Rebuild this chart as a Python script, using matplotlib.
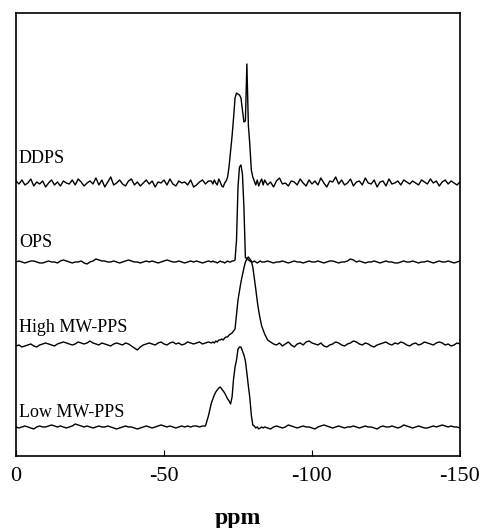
import numpy as np
import matplotlib.pyplot as plt

plt.rcParams['font.family'] = ['Liberation Serif', 'DejaVu Serif']

# chemical shift grid (ppm): coarse on the baseline, finer around the peaks
ppm_left = np.arange(0, -66, -1.0)
ppm_mid = np.arange(-66, -84, -0.5)
ppm_right = np.arange(-84, -151, -1.0)
ppm = np.concatenate([ppm_left, ppm_mid, ppm_right])

labels = ["DDPS", "OPS", "High MW-PPS", "Low MW-PPS"]
offsets = [273, 194, 111, 29]          # stacking offset of each trace
label_y = [293, 209, 124, 39]

# intensities (arbitrary units)
ddps_left = [2, -1, 3, -2, 0, 4, -3, 1, -1, 2,
             -4, 0, 3, -2, 1, -3, 2, 0, -1, 3,
             -2, 4, 1, -3, 0, 2, -1, 5, -2, 3,
             -4, 1, 6, -2, 0, 3, -1, -3, 2, 4,
             -2, 1, -3, 0, 3, -1, 2, -4, 1, 0,
             3, -2, 4, -1, -3, 2, 0, 1, -2, 3,
             -4, -2, 1, 3, -1, 2]
ddps_mid = [2, -1, 3, 0, -2, 4, 1, -3, -4, 0, 2, 6,
            17, 32, 47, 65, 85, 90, 89, 88, 85, 73, 61, 62,
            119, 58, 38, 13, 6, 2, -2, 3, -3, 1, 4, -2]
ddps_right = [3, -2, 1, -4, 2, 5, -1, 0, -3, 2,
              1, -2, 4, 0, -3, 3, -1, 2, -2, 5,
              0, -4, 2, 1, 6, -1, 3, -2, 0, 4,
              -3, 1, 2, -2, 5, 0, -1, 3, -4, 1,
              2, -3, 4, -1, 0, 2, -2, 3, 1, -1,
              2, 0, -2, 3, 1, -1, 4, 0, 2, -3,
              1, 3, -1, 2, 0, -2, 1]

ops_left = [0, 1, 0, -1, 0, 1, 1, 0, -1, -1,
            0, 1, 0, 0, -1, 1, 2, 1, 0, -1,
            0, 0, 1, -1, -2, 0, 1, 3, 2, 1,
            1, 0, 0, 1, 0, -1, 0, 1, 2, 1,
            0, 0, -1, 0, 1, 0, 1, 0, -1, 0,
            1, 2, 1, 0, 0, 1, 0, -1, 0, 1,
            0, 1, 0, -1, 0, 1]
ops_mid = [0, 1, 0, 0, -1, 0, 1, 0, 0, -1, 0, 1,
           0, 0, 1, 1, 2, 22, 75, 95, 97, 88, 55, 4,
           4, 2, 1, 0, 0, 1, 0, -1, 0, 1, 0, 0]
ops_right = [0, 1, 0, -1, 0, 0, 1, 0, -1, 0,
             1, 0, 0, -1, 0, 1, 0, 0, 1, 0,
             -1, 0, 1, 1, 0, -1, 0, 0, 1, 3,
             2, 0, 1, 0, -1, 0, 0, 1, 0, -1,
             0, 1, 0, 0, -1, -1, 0, 1, 0, 0,
             1, 0, -1, 0, 0, 1, 0, -1, 0, 1,
             0, 0, 1, 0, -1, 0, 1]

high_left = [-1, 0, -2, -1, 0, 1, -1, -2, 0, 1,
             2, 1, 0, -1, 1, 2, 3, 2, 1, 0,
             1, 3, 2, 1, 2, 4, 2, 1, 0, 2,
             1, 0, -1, 1, 2, 1, 0, 2, 1, -1,
             -3, -5, -2, 0, 1, 2, 1, 0, 2, 3,
             1, 0, 2, 3, 1, 2, 0, 1, 3, 2,
             1, 2, 3, 1, 2, 3]
high_mid = [2, 3, 2, 4, 3, 5, 5, 6, 5, 7, 8, 8,
            10, 11, 12, 14, 16, 30, 45, 54, 63, 70, 77, 83,
            86, 88, 86, 84, 78, 67, 56, 44, 34, 26, 19, 15]
high_right = [11, 5, 3, 1, 0, 2, -1, 1, 3, 0,
              -2, 1, 2, 0, 3, 4, 2, 1, 0, 2,
              -1, -2, 0, 1, 3, 2, 0, -1, 1, 2,
              4, 3, 1, 0, 2, 1, -1, -2, 0, 1,
              2, 3, 1, 0, 2, 1, 3, 2, 0, -1,
              1, 2, 0, 1, 3, 2, 1, 0, 2, 3,
              2, 0, 1, -1, 0, 2, 1]

low_left = [0, -1, 0, 1, 0, -1, -2, 0, 1, 0,
            0, 1, 2, 1, 0, 1, 0, -1, 0, 1,
            3, 2, 1, 0, 1, 0, -1, 0, 1, 0,
            0, 1, 0, -1, -2, -1, 0, 1, 0, 0,
            -1, -2, -1, 0, 1, 0, -1, 0, 1, 2,
            1, 0, 1, 0, -1, 0, 1, 0, 1, 0,
            1, 1, 0, 1, 1, 11]
low_mid = [24, 28, 32, 35, 37, 39, 40, 38, 36, 34, 31, 28,
           26, 23, 30, 48, 60, 67, 78, 80, 80, 76, 72, 66,
           54, 41, 29, 12, 2, 1, -1, 0, -2, -1, 0, -1]
low_right = [0, -1, -2, 0, 1, 0, -1, 0, 2, 1,
             0, -1, 0, 1, 0, 0, -1, -2, 0, 1,
             2, 1, 0, -1, 0, 1, 0, -1, 0, 0,
             1, 0, -1, 0, 1, 0, 0, -1, -2, 0,
             1, 0, 0, 1, 0, -1, 0, 2, 1, 0,
             -1, 0, 1, 0, -1, -1, 0, 1, 0, 1,
             2, 1, 0, 1, 0, 0, -1]

spectra = [ddps_left + ddps_mid + ddps_right,
           ops_left + ops_mid + ops_right,
           high_left + high_mid + high_right,
           low_left + low_mid + low_right]

fig = plt.figure(figsize=(4.81, 5.28), dpi=100)
ax = fig.add_axes([0.0333, 0.1364, 0.9230, 0.8390])

for name, off, ly, spec in zip(labels, offsets, label_y, spectra):
    ax.plot(ppm, off + np.array(spec), color='black', lw=1.0)
    ax.text(-1, ly, name, fontsize=13, va='baseline', ha='left')

ax.set_xlim(0, -150)
ax.set_ylim(0, 443)
ax.set_xticks([0, -50, -100, -150])
ax.set_xticklabels(['0', '-50', '-100', '-150'])
ax.set_yticks([])
ax.tick_params(axis='x', direction='in', length=4, labelsize=16, pad=8)
for s in ax.spines.values():
    s.set_linewidth(1.2)
ax.set_xlabel('ppm', fontsize=17, fontweight='bold', labelpad=16)

fig.savefig('out.png', dpi=100)
